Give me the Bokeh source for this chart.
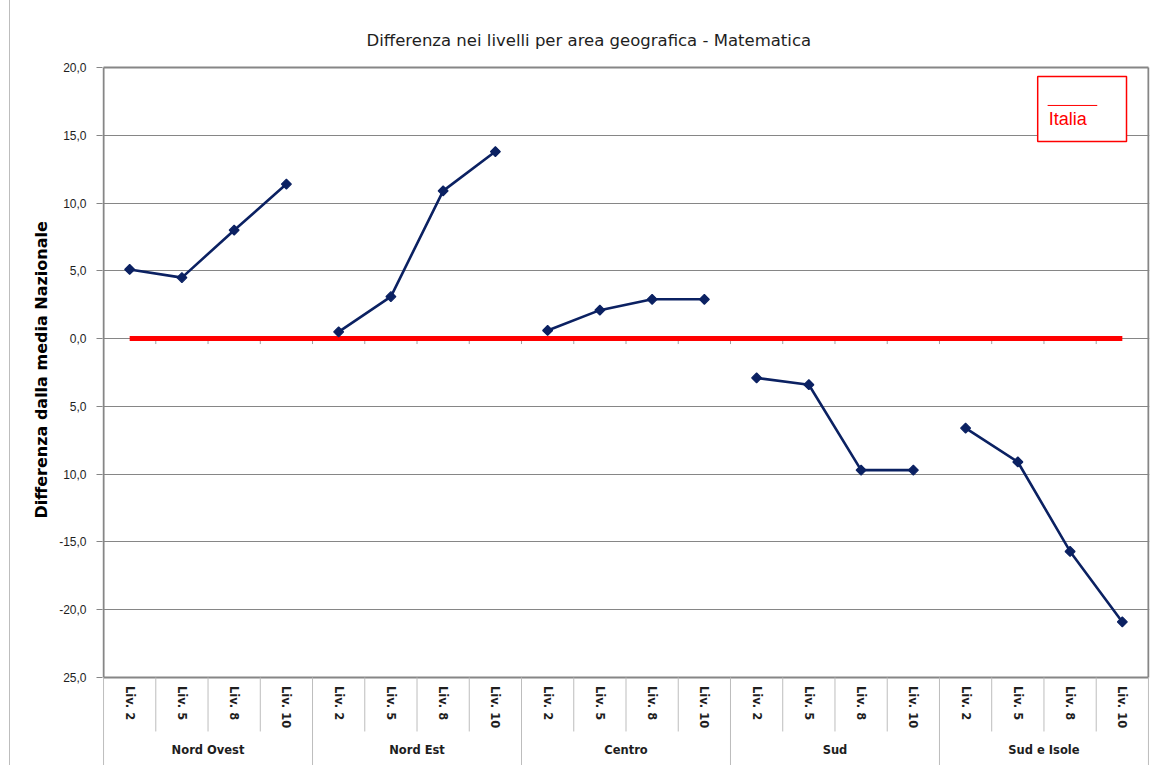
import math
from bokeh.plotting import figure
from bokeh.models import FactorRange, Range1d, FixedTicker, Title
from bokeh.embed import file_html
from bokeh.resources import INLINE
from bokeh.core.properties import value

# ---------------- data ----------------
areas = ["Nord Ovest", "Nord Est", "Centro", "Sud", "Sud e Isole"]
levels = ["Liv. 2", "Liv. 5", "Liv. 8", "Liv. 10"]

nord_ovest = [5.1, 4.5, 8.0, 11.4]
nord_est = [0.5, 3.1, 10.9, 13.8]
centro = [0.6, 2.1, 2.9, 2.9]
sud = [-2.9, -3.4, -9.7, -9.7]
sud_isole = [-6.6, -9.1, -15.7, -20.9]
italia = [0.0, 0.0, 0.0, 0.0, 0.0, 0.0, 0.0, 0.0, 0.0, 0.0,
          0.0, 0.0, 0.0, 0.0, 0.0, 0.0, 0.0, 0.0, 0.0, 0.0]

y_ticks = [-25, -20, -15, -10, -5, 0, 5, 10, 15, 20]
y_tick_labels = ["25,0", "-20,0", "-15,0", "10,0", "5,0",
                 "0,0", "5,0", "10,0", "15,0", "20,0"]

title_text = "Differenza nei livelli per area geografica - Matematica"
y_title = "Differenza dalla media Nazionale"
legend_label = "Italia"

# ---------------- style ----------------
NAVY = "#0B2162"
RED = "#FF0000"
FRAME = "#868686"
LIGHT = "#BDBDBD"
TXT = "#1E1E1E"
FONT = "Liberation Sans"
WIDE = "DejaVu Sans"

series = [nord_ovest, nord_est, centro, sud, sud_isole]
factors = [(a, l) for a in areas for l in levels]
n = len(factors)
y_top, y_bot = max(y_ticks), min(y_ticks)

x_range = FactorRange(*factors, factor_padding=0, group_padding=0,
                      range_padding=0.02, range_padding_units="absolute")

p = figure(x_range=x_range, y_range=Range1d(-31.49, 20.148),
           width=1141, height=765, output_backend="svg",
           toolbar_location=None, x_axis_location=None,
           min_border_left=92, min_border_right=2, min_border_top=65,
           min_border_bottom=0, outline_line_color=None,
           background_fill_color="white", border_fill_color="white")
p.styles = {"margin-left": "9px", "border-left": "1px solid #BDBDBD"}

# title
p.title.text = title_text
p.title.align = "left"
p.title.offset = 264
p.title.standoff = 31
p.title.text_font = WIDE
p.title.text_font_size = "16.5px"
p.title.text_font_style = "normal"
p.title.text_color = TXT

# y axis
p.yaxis.ticker = FixedTicker(ticks=y_ticks)
p.yaxis.major_label_overrides = dict(zip(y_ticks, y_tick_labels))
p.yaxis.axis_line_color = None
p.yaxis.major_tick_out = 6
p.yaxis.major_tick_in = 0
p.yaxis.major_tick_line_color = FRAME
p.yaxis.minor_tick_line_color = None
p.yaxis.major_label_standoff = 10
p.yaxis.major_label_text_font = FONT
p.yaxis.major_label_text_font_size = "12px"
p.yaxis.major_label_text_color = TXT

p.add_layout(Title(text=y_title, align="left", offset=247, standoff=11,
                   text_font=WIDE, text_font_size="16px",
                   text_font_style="bold", text_color="black"), "left")

p.xgrid.visible = False
p.ygrid.ticker = FixedTicker(ticks=[t for t in y_ticks if t not in (y_top, y_bot)])
p.ygrid.grid_line_color = FRAME
p.ygrid.grid_line_width = 1

# plot-area frame
p.segment(x0=[0, n, 0, 0], y0=[y_bot, y_bot, y_top, y_bot],
          x1=[0, n, n, n], y1=[y_top, y_top, y_top, y_bot],
          line_color=FRAME, line_width=2)

# category separators in label area
sub_x = [i for i in range(1, n) if i % len(levels) != 0]
grp_x = [0] + [i for i in range(1, n) if i % len(levels) == 0] + [n]
p.segment(x0=sub_x, y0=[y_bot] * len(sub_x), x1=sub_x, y1=[-28.98] * len(sub_x),
          line_color=LIGHT, line_width=1)
p.segment(x0=grp_x, y0=[y_bot] * len(grp_x), x1=grp_x, y1=[-32] * len(grp_x),
          line_color=LIGHT, line_width=1)

# small ticks of the horizontal axis crossing at 0
tick_x = list(range(1, n))
p.segment(x0=tick_x, y0=[0] * len(tick_x), x1=tick_x, y1=[-0.4] * len(tick_x),
          line_color="#A0A0A0", line_width=1)

# Italia reference line
p.line(x=factors, y=italia, line_color=RED, line_width=5)

# area series
for area, vals in zip(areas, series):
    xs = [(area, l) for l in levels]
    p.line(x=xs, y=vals, line_color=NAVY, line_width=2.6)
    p.scatter(x=xs, y=vals, marker="square", angle=math.pi / 4, size=7,
              fill_color=NAVY, line_color=NAVY, line_width=1.2)

# x labels
p.text(x=factors, y=[-25.62] * n, text=[f[1] for f in factors],
       angle=-math.pi / 2, text_align="left", text_baseline="middle",
       text_font=value(WIDE), text_font_style="bold", text_font_size="11.5px",
       text_color=TXT)
p.text(x=areas, y=[-30.31] * len(areas), text=areas,
       text_align="center", text_baseline="middle",
       text_font=value(WIDE), text_font_style="bold", text_font_size="11.5px",
       text_color=TXT)

# legend box
p.quad(left=[17.88], right=[19.58], top=[19.34], bottom=[14.54],
       fill_color="white", line_color=RED, line_width=1.5)
p.segment(x0=[18.07], y0=[17.2], x1=[19.02], y1=[17.2],
          line_color=RED, line_width=1)
p.text(x=[18.09], y=[16.22], text=[legend_label], text_align="left",
       text_baseline="middle", text_font=value(FONT), text_font_size="18px",
       text_color=RED)

open("out.html", "w").write(file_html(p, INLINE))
